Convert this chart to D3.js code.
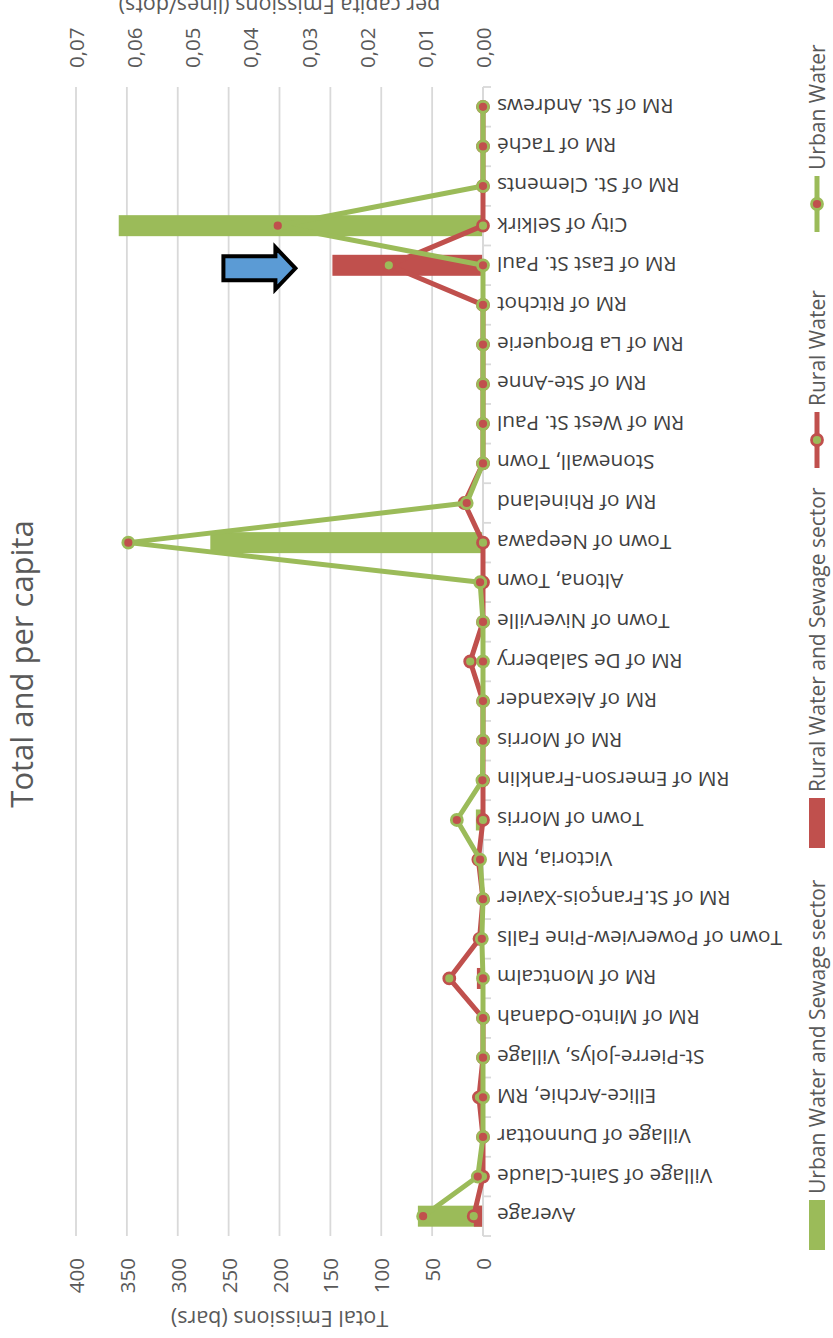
<!DOCTYPE html>
<html>
<head>
<meta charset="utf-8">
<script src="https://cdn.jsdelivr.net/npm/d3@7"></script>
<style>
  body { margin: 0; background: #fff; }
  svg { display: block; }
  text { font-family: "Open Sans", "DejaVu Sans", sans-serif; }
</style>
</head>
<body>
<script>
// Municipalities, in axis order (first one sits next to the value axis)
const categories = [
  "Average", "Village of Saint-Claude", "Village of Dunnottar", "Ellice-Archie, RM",
  "St-Pierre-Jolys, Village", "RM of Minto-Odanah", "RM of Montcalm",
  "Town of Powerview-Pine Falls", "RM of St.François-Xavier", "Victoria, RM",
  "Town of Morris", "RM of Emerson-Franklin", "RM of Morris", "RM of Alexander",
  "RM of De Salaberry", "Town of Niverville", "Altona, Town", "Town of Neepawa",
  "RM of Rhineland", "Stonewall, Town", "RM of West St. Paul", "RM of Ste-Anne",
  "RM of La Broquerie", "RM of Ritchot", "RM of East St. Paul", "City of Selkirk",
  "RM of St. Clements", "RM of Taché", "RM of St. Andrews"
];

// Total emissions (bars)
const urbanSewageTotal = [64, 0, 0, 0, 0, 0, 0, 0, 0, 0, 7, 0, 0, 0, 0, 0, 0, 268, 0, 0, 0, 0, 0, 0, 0, 358, 0, 0, 0];
const ruralSewageTotal = [9, 0, 0, 0, 0, 0, 6, 0, 0, 0, 0, 0, 0, 0, 0, 0, 0, 0, 0, 0, 0, 0, 0, 0, 148, 0, 0, 0, 0];

// Per capita emissions (lines/dots)
const ruralWaterPerCapita = [0.0016, 0, 0, 0.0007, 0, 0, 0.0058, 0.0006, 0, 0.0008, 0, 0, 0, 0, 0.0022, 0, 0, 0, 0.0032, 0, 0, 0, 0, 0, 0.0162, 0, 0, 0, 0];
const urbanWaterPerCapita = [0.0103, 0.0009, 0, 0, 0, 0, 0, 0.0002, 0, 0.0005, 0.0045, 0.0001, 0, 0, 0, 0, 0.0005, 0.0610, 0.0028, 0, 0, 0, 0, 0, 0, 0.0353, 0, 0, 0];

const totalTicks = [0, 50, 100, 150, 200, 250, 300, 350, 400];
const perCapitaTicks = [0, 0.01, 0.02, 0.03, 0.04, 0.05, 0.06, 0.07];

const legendItems = [
  { label: "Urban Water and Sewage sector", kind: "bar", color: "#9BBB59" },
  { label: "Rural Water and Sewage sector", kind: "bar", color: "#C0504D" },
  { label: "Rural Water", kind: "line", color: "#C0504D", fill: "#9BBB59" },
  { label: "Urban Water", kind: "line", color: "#9BBB59", fill: "#C0504D" }
];

const GREEN = "#9BBB59", RED = "#C0504D", GRID = "#d9d9d9";
const W = 833, H = 1338;

const svg = d3.select("body").append("svg").attr("width", W).attr("height", H);

// The chart is laid out as a column chart (width H, height W) and turned a quarter turn.
const g = svg.append("g").attr("transform", `translate(0,${H}) rotate(-90)`);

const x = d3.scaleBand().domain(categories).range([102, 1251]).padding(0);
const yTot = d3.scaleLinear().domain([0, 400]).range([483, 76]);
const yPc = d3.scaleLinear().domain([0, 0.07]).range([483, 76]);
const bw = x.bandwidth();
const barW = bw * 0.53;
const cx = c => x(c) + bw / 2;

const comma = d3.formatLocale({ decimal: ",", thousands: ".", grouping: [3], currency: ["", ""] });
const fmtPc = comma.format(".2f");

// gridlines
g.append("g").selectAll("line").data(totalTicks).join("line")
  .attr("x1", 102).attr("x2", 1251)
  .attr("y1", d => yTot(d)).attr("y2", d => yTot(d))
  .attr("stroke", GRID).attr("stroke-width", 1.8);

// bars: both series share the same slot, rural on top
function bars(values, color) {
  g.append("g").selectAll("rect").data(categories).join("rect")
    .attr("x", c => cx(c) - barW / 2)
    .attr("width", barW)
    .attr("y", (c, i) => yTot(values[i]))
    .attr("height", (c, i) => yTot(0) - yTot(values[i]))
    .attr("fill", color);
}
bars(urbanSewageTotal, GREEN);
bars(ruralSewageTotal, RED);

// category axis line and boundary ticks
const axisG = g.append("g");
axisG.append("line").attr("x1", 102).attr("x2", 1251).attr("y1", 483).attr("y2", 483)
  .attr("stroke", GRID).attr("stroke-width", 1.8);
const bounds = categories.map(c => x(c)).concat([x(categories[categories.length - 1]) + bw]);
axisG.selectAll("line.tick").data(bounds).join("line").attr("class", "tick")
  .attr("x1", d => d).attr("x2", d => d).attr("y1", 483).attr("y2", 491)
  .attr("stroke", GRID).attr("stroke-width", 1.8);

// per-capita lines with markers
function series(values, lineColor, dotFill) {
  const line = d3.line().x(c => cx(c)).y((c, i) => yPc(values[i]));
  g.append("path").datum(categories).attr("d", line)
    .attr("fill", "none").attr("stroke", lineColor).attr("stroke-width", 5)
    .attr("stroke-linejoin", "round");
  g.append("g").selectAll("circle").data(categories).join("circle")
    .attr("cx", c => cx(c)).attr("cy", (c, i) => yPc(values[i])).attr("r", 5.5)
    .attr("fill", dotFill).attr("stroke", lineColor).attr("stroke-width", 2.8);
}
series(ruralWaterPerCapita, RED, GREEN);
series(urbanWaterPerCapita, GREEN, RED);

// category labels
g.append("g").selectAll("text").data(categories).join("text")
  .attr("transform", c => `translate(${cx(c)},497) rotate(-90)`)
  .attr("text-anchor", "end").attr("dominant-baseline", "central")
  .attr("font-size", 20.8).attr("fill", "#404040")
  .text(c => c);

// value axis labels
g.append("g").selectAll("text").data(totalTicks).join("text")
  .attr("x", 80).attr("y", d => yTot(d))
  .attr("text-anchor", "end").attr("dominant-baseline", "central")
  .attr("font-size", 20.5).attr("fill", "#595959")
  .text(d => d);
g.append("g").selectAll("text").data(perCapitaTicks).join("text")
  .attr("x", 1270).attr("y", d => yPc(d))
  .attr("text-anchor", "start").attr("dominant-baseline", "central")
  .attr("font-size", 20.5).attr("fill", "#595959")
  .text(d => fmtPc(d));

// axis titles
const midY = (yTot(0) + yTot(400)) / 2;
g.append("text").attr("transform", `translate(27,${midY}) rotate(-90)`)
  .attr("text-anchor", "middle").attr("font-size", 21.5).attr("fill", "#595959")
  .text("Total Emissions (bars)");
g.append("text").attr("transform", `translate(1340,${midY}) rotate(-90)`)
  .attr("text-anchor", "middle").attr("font-size", 21.5).attr("fill", "#595959")
  .text("per capita Emissions (lines/dots)");

// chart title
g.append("text").attr("x", 674).attr("y", 33)
  .attr("text-anchor", "middle").attr("font-size", 31).attr("fill", "#595959")
  .text("Total and per capita");

// legend
const legendStarts = [88, 490, 870, 1106];
const legY = 817;
const leg = g.append("g").selectAll("g").data(legendItems).join("g")
  .attr("transform", (d, i) => `translate(${legendStarts[i]},${legY})`);
leg.each(function (d) {
  const s = d3.select(this);
  if (d.kind === "bar") {
    s.append("rect").attr("x", 0).attr("y", -8).attr("width", 50).attr("height", 16).attr("fill", d.color);
    s.append("text").attr("x", 56).attr("dominant-baseline", "central")
      .attr("font-size", 21).attr("fill", "#595959").text(d.label);
  } else {
    s.append("line").attr("x1", 0).attr("x2", 56).attr("y1", 0).attr("y2", 0)
      .attr("stroke", d.color).attr("stroke-width", 5);
    s.append("circle").attr("cx", 28).attr("cy", 0).attr("r", 5.5)
      .attr("fill", d.fill).attr("stroke", d.color).attr("stroke-width", 2.8);
    s.append("text").attr("x", 62).attr("dominant-baseline", "central")
      .attr("font-size", 21).attr("fill", "#595959").text(d.label);
  }
});

// callout arrow pointing at the East St. Paul bar
const target = "RM of East St. Paul";
const tipX = yTot(ruralSewageTotal[categories.indexOf(target)]) - 37;
const tipY = H - cx(target) + 3;
svg.append("path")
  .attr("d", `M${tipX - 72},${tipY - 12} L${tipX - 20},${tipY - 12} L${tipX - 20},${tipY - 21} L${tipX},${tipY} L${tipX - 20},${tipY + 21} L${tipX - 20},${tipY + 12} L${tipX - 72},${tipY + 12} Z`)
  .attr("fill", "#5B9BD5").attr("stroke", "#000").attr("stroke-width", 4)
  .attr("stroke-linejoin", "miter");
</script>
</body>
</html>
